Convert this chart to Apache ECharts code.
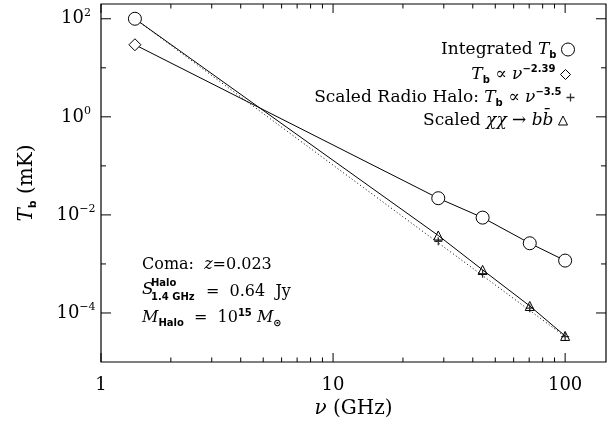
<!DOCTYPE html>
<html><head><meta charset="utf-8">
<script src="https://cdn.jsdelivr.net/npm/echarts@6/dist/echarts.min.js"></script>
<style>html,body{margin:0;padding:0;background:#fff}#c{width:616px;height:424px}</style>
</head><body><div id="c"></div>
<script>
const SERIF = 'DejaVu Serif';
const SANS = 'DejaVu Sans';

// axis ranges and ticks
const xMin = 1, xMax = 150, yMin = 1e-5, yMax = 200;
const xTickLabels = ['1', '10', '100'];
const xMajorTicks = [1, 10, 100];
const xMinorTicks = [2, 3, 4, 5, 6, 7, 8, 9, 20, 30, 40, 50, 60, 70, 80, 90];
const yMajorTicks = [1e-4, 1e-2, 1, 1e2];
const yMinorTicks = [1e-3, 1e-1, 10];

// data
const nuLow = 1.4;
const tbIntegratedLow = 100;
const tbPowerLawLow = 29.5;
const nuHigh = [28.4, 44.1, 70.4, 100];
const tbIntegratedHigh = [0.0219, 0.0088, 0.00264, 0.00117];
const tbDarkMatter = [0.0038, 0.000755, 0.000139, 0.000034];
const tbHalo = [0.0029, 0.00063, 0.000125, 0.000033];
const haloLineNu = [1.4, 100];
const haloLineTb = [100, 0.000033];

function mkRich(fs) {
  return {
    it: { fontStyle: 'italic', fontFamily: SERIF, fontSize: fs, lineHeight: fs + 4, color: '#000' },
    n: { fontFamily: SERIF, fontSize: fs, lineHeight: fs + 4, color: '#000' },
    sub: { fontFamily: SANS, fontWeight: 'bold', fontSize: 10, lineHeight: 10, verticalAlign: 'bottom', color: '#000' },
    sup: { fontFamily: SANS, fontWeight: 'bold', fontSize: 10, lineHeight: 10, verticalAlign: 'top', color: '#000' }
  };
}
const legendText = { fontFamily: SERIF, fontSize: 17, color: '#000', lineHeight: 21, rich: mkRich(17) };
const annoRich = mkRich(16);
function anno(x, y, text) {
  return { type: 'text', x: x, y: y,
    style: { text: text, fontFamily: SERIF, fontSize: 16, fill: '#000', verticalAlign: 'middle', rich: annoRich } };
}

function isPow10(v) {
  const e = Math.round(Math.log10(v));
  return Math.abs(Math.log10(v) - e) < 1e-6 ? e : null;
}

const PLUS = 'path://M0,5L10,5M5,0L5,10';
const blackStroke = { color: '#fff', borderColor: '#000', borderWidth: 1 };

function mkLegend(name, icon, size, right, top, text, fill) {
  return {
    data: [{ name: name, icon: icon, itemStyle: { color: fill, borderColor: '#000', borderWidth: icon === PLUS ? 1.3 : 1 } }],
    right: right, top: top, align: 'right', orient: 'vertical', padding: 0,
    itemWidth: size, itemHeight: size, selectedMode: false,
    formatter: function () { return text; },
    textStyle: legendText
  };
}

const annotations = [
  anno(142, 265, '{n|Coma:  }{it|z}{n|=0.023}'),
  { type: 'text', x: 142, y: 290, style: { text: 'S', fontFamily: SERIF, fontStyle: 'italic', fontSize: 17, fill: '#000', verticalAlign: 'middle' } },
  { type: 'text', x: 151, y: 283, style: { text: 'Halo', fontFamily: SANS, fontWeight: 'bold', fontSize: 10, fill: '#000', verticalAlign: 'middle' } },
  { type: 'text', x: 151, y: 297, style: { text: '1.4 GHz', fontFamily: SANS, fontWeight: 'bold', fontSize: 10, fill: '#000', verticalAlign: 'middle' } },
  anno(206, 292, '{n|=  0.64  Jy}'),
  anno(142, 318, '{it|M}{sub|Halo}{n|  =  10}{sup|15}{n| }{it|M}{sub|\u2299}')
];

const chart = echarts.init(document.getElementById('c'));
chart.setOption({
  animation: false,
  grid: { left: 101, right: 10, top: 4, bottom: 62, outerBoundsMode: 'none',
          show: true, borderColor: '#000', borderWidth: 1.2, backgroundColor: 'transparent' },
  xAxis: {
    type: 'log', min: xMin, max: xMax,
    axisLine: { show: false }, axisTick: { show: false }, splitLine: { show: false },
    axisLabel: {
      margin: 14, fontFamily: SERIF, fontSize: 18, color: '#000',
      formatter: function (v) {
        const i = xMajorTicks.findIndex(t => Math.abs(t - v) / t < 1e-6);
        return i >= 0 ? xTickLabels[i] : '';
      }
    },
    name: '{it|ν} (GHz)', nameLocation: 'middle', nameGap: 36,
    nameTextStyle: { fontFamily: SERIF, fontSize: 20, color: '#000', rich: { it: { fontStyle: 'italic', fontFamily: SERIF, fontSize: 20 } } }
  },
  yAxis: {
    type: 'log', min: yMin, max: yMax,
    axisLine: { show: false }, axisTick: { show: false }, splitLine: { show: false },
    axisLabel: {
      margin: 25, align: 'center',
      formatter: function (v) {
        const e = isPow10(v);
        if (e === null || e % 2 !== 0) return '';
        return '{n|10}{s|' + (e < 0 ? '\u2212' + (-e) : e) + '}';
      },
      rich: {
        n: { fontFamily: SERIF, fontSize: 18, lineHeight: 22, color: '#000' },
        s: { fontFamily: SERIF, fontSize: 11, lineHeight: 14, verticalAlign: 'top', color: '#000' }
      }
    },
    name: '{it|T}{sub|b} (mK)', nameLocation: 'middle', nameGap: 62,
    nameTextStyle: {
      fontFamily: SERIF, fontSize: 20, color: '#000', lineHeight: 24,
      rich: {
        it: { fontStyle: 'italic', fontFamily: SERIF, fontSize: 20, lineHeight: 24 },
        sub: { fontFamily: SANS, fontWeight: 'bold', fontSize: 11, lineHeight: 11, verticalAlign: 'bottom' }
      }
    }
  },
  legend: [
    mkLegend('Integrated', 'circle', 13, 41, 39, 'Integrated {it|T}{sub|b}', '#fff'),
    mkLegend('PowerLaw', 'diamond', 10, 45, 64, '{it|T}{sub|b} \u221D {it|ν}{sup|\u22122.39}', '#fff'),
    mkLegend('Halo', PLUS, 8, 39, 87, 'Scaled Radio Halo: {it|T}{sub|b} \u221D {it|ν}{sup|\u22123.5}', 'none'),
    mkLegend('DM', 'triangle', 9, 46, 110, 'Scaled {it|χχ} \u2192 {it|bb\u0304}', 'none')
  ],
  series: [
    {
      name: 'HaloLine', type: 'line', symbol: 'none', z: 1,
      data: haloLineNu.map((n, i) => [n, haloLineTb[i]]),
      lineStyle: { color: '#000', width: 1, type: [1, 2.5] }
    },
    {
      name: 'PowerLaw', type: 'line', z: 2,
      symbol: 'diamond', symbolSize: 12,
      itemStyle: blackStroke,
      lineStyle: { color: '#000', width: 1 },
      data: [[nuLow, tbPowerLawLow], { value: [nuHigh[0], tbIntegratedHigh[0]], symbol: 'none' }]
    },
    {
      name: 'DM', type: 'line', z: 3,
      symbol: 'triangle', symbolSize: 9,
      itemStyle: { color: 'none', borderColor: '#000', borderWidth: 1 },
      lineStyle: { color: '#000', width: 1 },
      data: [{ value: [nuLow, tbIntegratedLow], symbol: 'circle', symbolSize: 13, itemStyle: blackStroke }]
        .concat(nuHigh.map((n, i) => [n, tbDarkMatter[i]]))
    },
    {
      name: 'Halo', type: 'scatter', z: 4,
      symbol: PLUS, symbolSize: 8,
      itemStyle: { color: 'none', borderColor: '#000', borderWidth: 1.3 },
      data: nuHigh.map((n, i) => [n, tbHalo[i]])
    },
    {
      name: 'Integrated', type: 'line', z: 5,
      symbol: 'circle', symbolSize: 13,
      itemStyle: blackStroke,
      lineStyle: { color: '#000', width: 1 },
      data: nuHigh.map((n, i) => [n, tbIntegratedHigh[i]])
    }
  ]
});

// inward ticks on all four sides, positioned through the chart's own axis scales (drawn as thin filled rects)
const tickMarks = [];
const lo = chart.convertToPixel({ gridIndex: 0 }, [xMin, yMin]);
const hi = chart.convertToPixel({ gridIndex: 0 }, [xMax, yMax]);
const L = lo[0], B = lo[1], R = hi[0], T = hi[1];
function mark(x, y, w, h) {
  tickMarks.push({ type: 'rect', shape: { x: x, y: y, width: w, height: h }, style: { fill: '#000' } });
}
function xTicks(values, len) {
  values.forEach(v => {
    const x = chart.convertToPixel({ gridIndex: 0 }, [v, yMin])[0];
    mark(x - 0.5, B - len, 1, len);
    mark(x - 0.5, T, 1, len);
  });
}
function yTicks(values, len) {
  values.forEach(v => {
    const y = chart.convertToPixel({ gridIndex: 0 }, [xMin, v])[1];
    mark(L, y - 0.5, len, 1);
    mark(R - len, y - 0.5, len, 1);
  });
}
xTicks(xMajorTicks, 9);
xTicks(xMinorTicks, 4.5);
yTicks(yMajorTicks, 10);
yTicks(yMinorTicks, 5);

chart.setOption({ graphic: annotations.concat(tickMarks) });
</script>
</body></html>
